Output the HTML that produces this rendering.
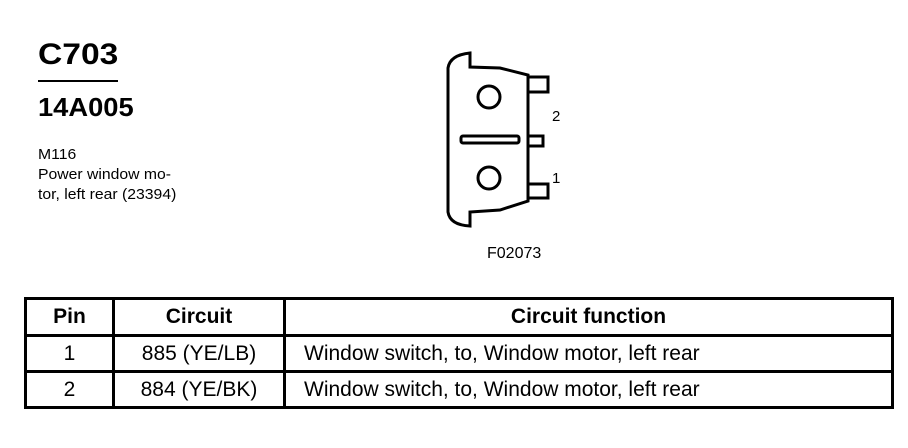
<!DOCTYPE html>
<html><head><style>
body{margin:0;background:#fff;width:908px;height:448px;overflow:hidden;position:relative;font-family:"Liberation Sans",Arial,sans-serif;color:#000}
.a{position:absolute;white-space:nowrap}
table{position:absolute;left:24px;top:297px;border-collapse:collapse;width:870px}
td{border:3px solid #000;text-align:center;font-size:21px;height:33px;padding:0}
th{border:3px solid #000;font-size:21px;height:34px;padding:0}
</style></head><body>
<div class="a" style="left:38px;top:38px;font-size:30px;font-weight:bold;transform:scaleX(1.12);transform-origin:left">C703</div>
<div style="position:absolute;left:38px;top:80px;width:80px;height:2px;background:#000"></div>
<div class="a" style="left:38px;top:92px;font-size:26px;font-weight:bold;transform:scaleX(1.05);transform-origin:left">14A005</div>
<div class="a" style="left:38px;top:145px;font-size:15px;line-height:20px;transform:scaleX(1.05);transform-origin:left">M116<br>Power window mo-<br>tor, left rear (23394)</div>
<svg style="position:absolute;left:0;top:0" width="908" height="448">
<g fill="none" stroke="#000" stroke-width="3">
<path d="M470,53 Q450,55 448,68 L448,212 Q450,225 470,226 L470,212 L500,210 L528,201 L528,75 L500,68 L470,67 Z"/>
<rect x="528" y="77" width="20" height="15"/>
<rect x="528" y="136" width="15" height="10"/>
<rect x="528" y="184" width="20" height="14"/>
<circle cx="489" cy="97" r="11"/>
<circle cx="489" cy="178" r="11"/>
<rect x="461" y="136" width="58" height="7" rx="2"/>
</g>
<text x="552" y="121" font-size="15" font-family="Liberation Sans">2</text>
<text x="552" y="183" font-size="15" font-family="Liberation Sans">1</text>
<text x="487" y="258" font-size="16" font-family="Liberation Sans">F02073</text>
</svg>
<table>
<tr><th style="width:85px">Pin</th><th style="width:168px">Circuit</th><th>Circuit function</th></tr>
<tr><td>1</td><td>885 (YE/LB)</td><td style="text-align:left;padding-left:18px">Window switch, to, Window motor, left rear</td></tr>
<tr><td>2</td><td>884 (YE/BK)</td><td style="text-align:left;padding-left:18px">Window switch, to, Window motor, left rear</td></tr>
</table>
</body></html>
